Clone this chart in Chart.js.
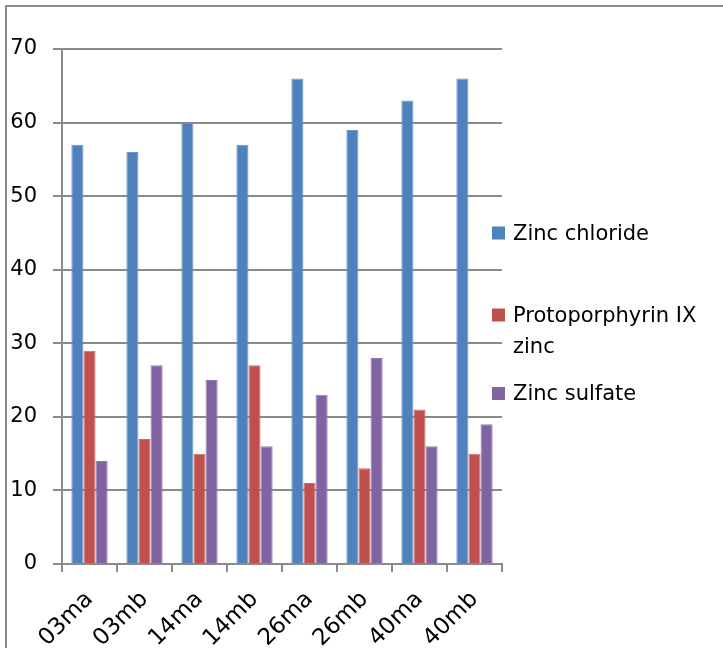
<!DOCTYPE html>
<html>
<head>
<meta charset="utf-8">
<script src="https://cdn.jsdelivr.net/npm/chart.js@4/dist/chart.umd.min.js"></script>
<style>
  html, body { margin: 0; padding: 0; background: #fff; overflow: hidden; }
  #c { display: block; }
</style>
</head>
<body>
<canvas id="c" width="723" height="648"></canvas>
<script>
// Sample codes along the x axis
const categories = ['03ma', '03mb', '14ma', '14mb', '26ma', '26mb', '40ma', '40mb'];

// Series values
const zincChloride = [57, 56, 60, 57, 66, 59, 63, 66];
const protoporphyrinZinc = [29, 17, 15, 27, 11, 13, 21, 15];
const zincSulfate = [14, 27, 25, 16, 23, 28, 16, 19];

// Series names
const seriesNames = ['Zinc chloride', 'Protoporphyrin IX zinc', 'Zinc sulfate'];

// Value axis ticks
const yTicks = [0, 10, 20, 30, 40, 50, 60, 70];

const FONT = 'DejaVu Sans';
const AXIS_GREY = '#8a8a8a';

// Outer frame: left and top edges of the chart box
const frame = {
  id: 'frame',
  beforeDraw(chart) {
    const ctx = chart.ctx;
    ctx.save();
    ctx.fillStyle = '#fff';
    ctx.fillRect(0, 0, chart.width, chart.height);
    ctx.strokeStyle = '#8c8c8c';
    ctx.lineWidth = 2;
    ctx.beginPath();
    ctx.moveTo(6, chart.height);
    ctx.lineTo(6, 6);
    ctx.lineTo(chart.width, 6);
    ctx.stroke();
    ctx.restore();
  }
};

// Legend to the right of the plot, with word-wrapped labels
const sideLegend = {
  id: 'sideLegend',
  afterDraw(chart, args, opts) {
    const ctx = chart.ctx;
    ctx.save();
    ctx.font = opts.fontSize + 'px "' + FONT + '"';
    ctx.textBaseline = 'alphabetic';
    ctx.textAlign = 'left';
    chart.data.datasets.forEach((ds, i) => {
      const words = ds.label.split(' ');
      const lines = [];
      let cur = '';
      words.forEach(w => {
        const t = cur ? cur + ' ' + w : w;
        if (cur && ctx.measureText(t).width > opts.maxWidth) { lines.push(cur); cur = w; }
        else cur = t;
      });
      if (cur) lines.push(cur);
      const base = opts.baselines[i];
      ctx.fillStyle = ds.backgroundColor;
      ctx.fillRect(opts.boxX, base - opts.boxSize, opts.boxSize, opts.boxSize);
      ctx.fillStyle = '#000';
      lines.forEach((ln, k) => ctx.fillText(ln, opts.textX, base + k * opts.lineHeight));
    });
    ctx.restore();
  }
};

const colors = ['#4F81BD', '#C0504D', '#8064A2'];
const edges = ['#6e96c9', '#cb6e6b', '#9379b2'];
const seriesData = [zincChloride, protoporphyrinZinc, zincSulfate];

new Chart(document.getElementById('c'), {
  type: 'bar',
  data: {
    labels: categories,
    datasets: seriesNames.map((name, i) => ({
      label: name,
      data: seriesData[i],
      backgroundColor: colors[i],
      borderColor: edges[i],
      borderWidth: { top: 1, left: 1, right: 1, bottom: 0 },
      categoryPercentage: 0.66,
      barPercentage: 1.0
    }))
  },
  options: {
    responsive: false,
    animation: false,
    devicePixelRatio: 1,
    layout: { padding: { top: 49, right: 221, left: 0, bottom: 0 } },
    plugins: {
      legend: { display: false },
      tooltip: { enabled: false },
      sideLegend: {
        fontSize: 21,
        boxX: 492,
        boxSize: 13,
        textX: 513,
        maxWidth: 200,
        lineHeight: 31,
        baselines: [239.5, 321.5, 400]
      }
    },
    scales: {
      x: {
        grid: { offset: true, drawOnChartArea: false, drawTicks: true, tickLength: 8,
                color: AXIS_GREY, lineWidth: 2 },
        border: { display: true, color: AXIS_GREY, width: 2 },
        ticks: { minRotation: 45, maxRotation: 45, color: '#000', padding: 14,
                 font: { family: FONT, size: 23 } },
        afterFit(scale) { scale.height = 84; }
      },
      y: {
        min: 0, max: 70,
        afterBuildTicks(scale) { scale.ticks = yTicks.map(v => ({ value: v })); },
        grid: { color: AXIS_GREY, lineWidth: 2, tickLength: 9, drawTicks: true },
        border: { display: true, color: AXIS_GREY, width: 2 },
        ticks: { color: '#000', padding: 16, font: { family: FONT, size: 21 } },
        afterFit(scale) { scale.width = 62; }
      }
    }
  },
  plugins: [frame, sideLegend]
});
</script>
</body>
</html>
